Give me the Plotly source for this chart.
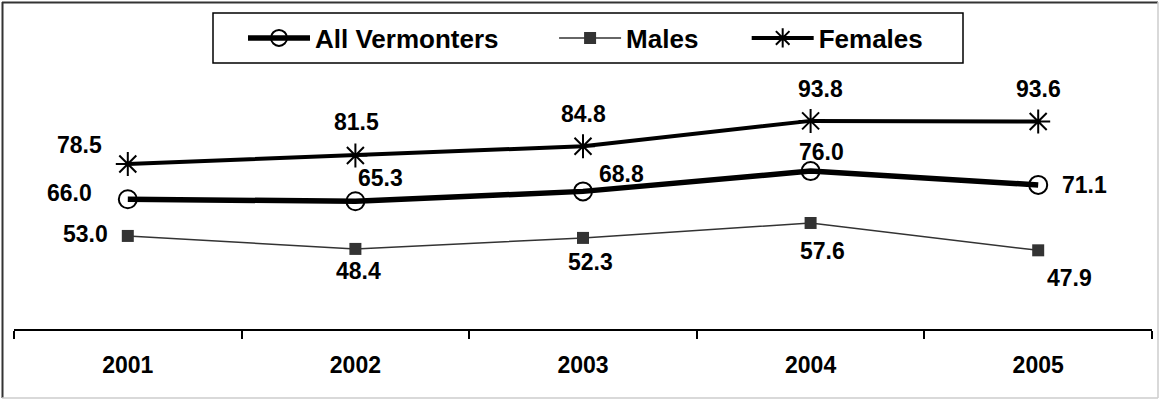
import plotly.graph_objects as go

# Survey years and rates per group
years = ["2001", "2002", "2003", "2004", "2005"]
all_vermonters = [66.0, 65.3, 68.8, 76.0, 71.1]
males = [53.0, 48.4, 52.3, 57.6, 47.9]
females = [78.5, 81.5, 84.8, 93.8, 93.6]

# Pixel offsets of the value labels relative to their points (dx right, dy down)
all_offsets = [(-58, -6), (25, -23), (38, -17), (11, -19), (46, 0)]
male_offsets = [(-42, -2), (3, 22), (7, 24), (12, 28), (31, 28)]
female_offsets = [(-48, -19), (1, -34), (0, -32), (10, -32), (0, -32)]

FONT = "Liberation Sans, Arial, sans-serif"
W, H = 1163, 400
ML, MR, MT, MB = 14, 11, 47, 71
PW, PH = W - ML - MR, H - MT - MB
PAD = "\u00a0"


def px_x(px):
    return (px - ML) / PW


def px_y(py):
    return (H - MB - py) / PH


fig = go.Figure()

fig.add_trace(go.Scatter(
    x=years, y=all_vermonters, name="All Vermonters" + PAD * 7, mode="lines+markers",
    line=dict(color="black", width=5.5),
    marker=dict(symbol="circle-open", size=18, color="black", line=dict(width=2)),
))
fig.add_trace(go.Scatter(
    x=years, y=males, name="Males" + PAD * 6, mode="lines+markers",
    line=dict(color="#333333", width=1.5),
    marker=dict(symbol="square", size=12, color="#333333"),
))
fig.add_trace(go.Scatter(
    x=years, y=females, name="Females", mode="lines+markers",
    line=dict(color="black", width=4),
    marker=dict(symbol="asterisk-open", size=20, color="black", line=dict(width=2, color="black")),
))

annotations = []
for series, offsets in ((all_vermonters, all_offsets), (males, male_offsets), (females, female_offsets)):
    for i, (val, (dx, dy)) in enumerate(zip(series, offsets)):
        annotations.append(dict(
            x=i, y=val, xref="x", yref="y", text=f"<b>{val:.1f}</b>", showarrow=False,
            xshift=dx, yshift=-dy, xanchor="center", yanchor="middle",
            font=dict(family=FONT, size=23, color="black"),
        ))

shapes = [
    # legend frame
    dict(type="rect", xref="paper", yref="paper", x0=px_x(213), x1=px_x(963), y0=px_y(13), y1=px_y(63),
         line=dict(color="black", width=1.5), fillcolor="white", layer="above"),
    # outer frame
    dict(type="line", xref="paper", yref="paper", x0=px_x(2), x1=px_x(1158), y0=px_y(2.5), y1=px_y(2.5),
         line=dict(color="#333333", width=2)),
    dict(type="line", xref="paper", yref="paper", x0=px_x(2.5), x1=px_x(2.5), y0=px_y(2), y1=px_y(398),
         line=dict(color="#333333", width=2)),
    dict(type="line", xref="paper", yref="paper", x0=px_x(1158), x1=px_x(1158), y0=px_y(2), y1=px_y(398),
         line=dict(color="#cccccc", width=1.5)),
    dict(type="line", xref="paper", yref="paper", x0=px_x(2), x1=px_x(1158), y0=px_y(398), y1=px_y(398),
         line=dict(color="#cccccc", width=1.5)),
]

fig.update_layout(
    width=W, height=H,
    margin=dict(l=ML, r=MR, t=MT, b=MB),
    paper_bgcolor="white", plot_bgcolor="white",
    font=dict(family=FONT, size=22, color="black", weight="bold"),
    showlegend=True,
    legend=dict(
        orientation="h", x=px_x(243), xanchor="left", y=px_y(38), yanchor="middle",
        borderwidth=0, bgcolor="rgba(0,0,0,0)",
        font=dict(family=FONT, size=26, color="black", weight="bold"),
        itemwidth=62, traceorder="normal",
    ),
    xaxis=dict(
        type="category", range=[-0.5, 4.5], showline=True, linecolor="black", linewidth=1.5,
        ticks="outside", tickson="boundaries", ticklen=8, tickwidth=1.5, tickcolor="black",
        showgrid=False, zeroline=False,
        tickfont=dict(family=FONT, size=23, color="black", weight="bold"),
        ticklabelstandoff=15,
    ),
    yaxis=dict(range=[20, 120], showgrid=False, zeroline=False, showline=False,
               showticklabels=False, ticks=""),
    annotations=annotations,
    shapes=shapes,
)

fig.write_html("out.html")
